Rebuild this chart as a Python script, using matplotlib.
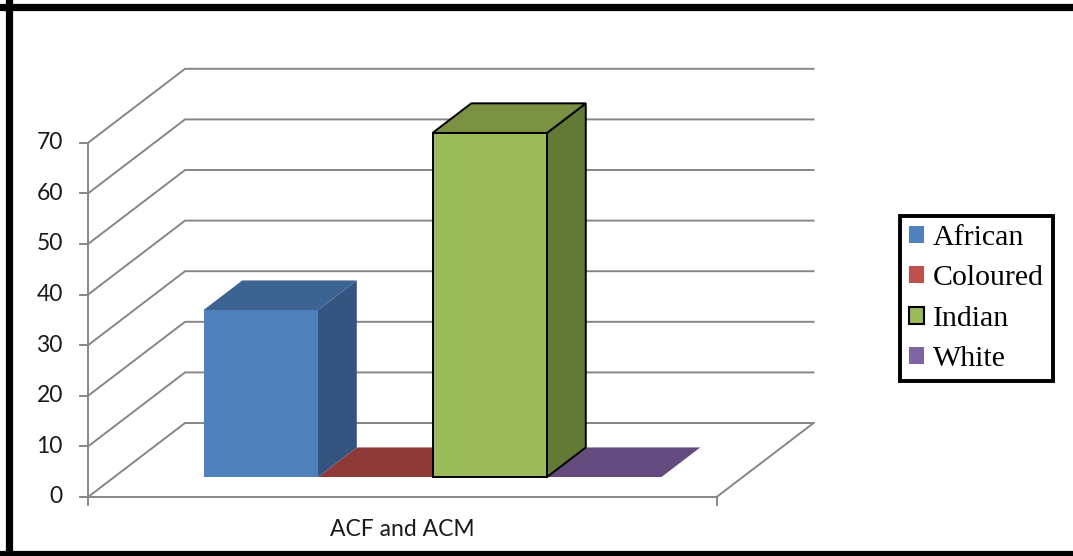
import matplotlib.pyplot as plt
from matplotlib.patches import Polygon, Patch
from matplotlib.lines import Line2D

categories = ["ACF and ACM"]
groups = ["African", "Coloured", "Indian", "White"]
values = [33, 0, 68, 0]
yticks = [0, 10, 20, 30, 40, 50, 60, 70]

front_colors = ["#4F81BD", "#C0504D", "#9BBB59", "#8064A2"]
top_colors = ["#3C6391", "#8E3A38", "#7A9144", "#634C7D"]
side_colors = ["#335580", "#7A302E", "#627A36", "#55416C"]
edge_colors = ["none", "none", "black", "none"]

grid_color = "#868686"

# fake 3d: oblique offset of the back wall, in data units
DX, DY = 0.847, 14.62
D0, D1 = 0.27, 0.67      # depth range of the bars
x_end = 5.49             # width of the floor
bar_start = 0.78


def proj(x, y, d):
    return (x + d * DX, y + d * DY)


fig = plt.figure(figsize=(10.73, 5.56), dpi=100)
ax = fig.add_axes([0, 0, 1, 1])
ax.set_xlim(-0.769, 8.603)
ax.set_ylim(-11.66, 98.22)
ax.axis("off")

# walls and gridlines
for v in yticks:
    pts = [proj(0, v, 0), proj(0, v, 1), proj(x_end, v, 1)]
    ax.plot([p[0] for p in pts], [p[1] for p in pts], color=grid_color, lw=1.4, zorder=1)
    ax.plot([-0.07, 0], [v, v], color=grid_color, lw=1.4, zorder=1)
    ax.text(-0.22, v, str(v), ha="right", va="center", fontsize=16.5,
            family="Lato", color="#1a1a1a")

ax.plot([0, 0], [0, yticks[-1]], color=grid_color, lw=1.4, zorder=1)
floor = [proj(0, 0, 0), proj(x_end, 0, 0), proj(x_end, 0, 1)]
ax.plot([p[0] for p in floor], [p[1] for p in floor], color=grid_color, lw=1.4, zorder=1)
for xt in [0, x_end]:
    ax.plot([xt, xt], [0, -1.6], color=grid_color, lw=1.4, zorder=1)

ax.text(x_end / 2, -6.5, categories[0], ha="center", va="center", fontsize=16.5,
        family="Lato", color="#1a1a1a")

# bars
for i, v in enumerate(values):
    x0 = bar_start + i
    x1 = x0 + 1
    z = 3 if v > 0 else 2
    lw = 1.4 if edge_colors[i] != "none" else 0
    front = [proj(x0, 0, D0), proj(x1, 0, D0), proj(x1, v, D0), proj(x0, v, D0)]
    top = [proj(x0, v, D0), proj(x1, v, D0), proj(x1, v, D1), proj(x0, v, D1)]
    side = [proj(x1, 0, D0), proj(x1, 0, D1), proj(x1, v, D1), proj(x1, v, D0)]
    if v > 0:
        ax.add_patch(Polygon(front, closed=True, facecolor=front_colors[i],
                             edgecolor=edge_colors[i], lw=lw, zorder=z))
        ax.add_patch(Polygon(side, closed=True, facecolor=side_colors[i],
                             edgecolor=edge_colors[i], lw=lw, zorder=z))
    ax.add_patch(Polygon(top, closed=True, facecolor=top_colors[i],
                         edgecolor=edge_colors[i], lw=lw, zorder=z))

# legend
handles = [Patch(facecolor=front_colors[i], edgecolor="black" if edge_colors[i] != "none" else "none",
                 lw=1.5, label=groups[i]) for i in range(len(groups))]
leg = fig.legend(handles=handles, loc="center left", bbox_to_anchor=(900 / 1073, 1 - 298.5 / 556),
                 prop={"family": "Liberation Serif", "size": 21.5}, frameon=True, fancybox=False,
                 framealpha=1, handlelength=0.5, handleheight=0.5, handletextpad=0.3,
                 labelspacing=0.48, borderpad=0.3, borderaxespad=0)
leg.get_frame().set_edgecolor("black")
leg.get_frame().set_linewidth(2.8)

# outer frame
fig.add_artist(Line2D([8.5 / 1073, 8.5 / 1073], [0, 1], color="black", lw=5.2, transform=fig.transFigure))
fig.add_artist(Line2D([0, 1], [1 - 6.5 / 556, 1 - 6.5 / 556], color="black", lw=5.2, transform=fig.transFigure))
fig.add_artist(Line2D([0, 1], [2 / 556, 2 / 556], color="black", lw=5.2, transform=fig.transFigure))

fig.savefig("out.png", dpi=100)
